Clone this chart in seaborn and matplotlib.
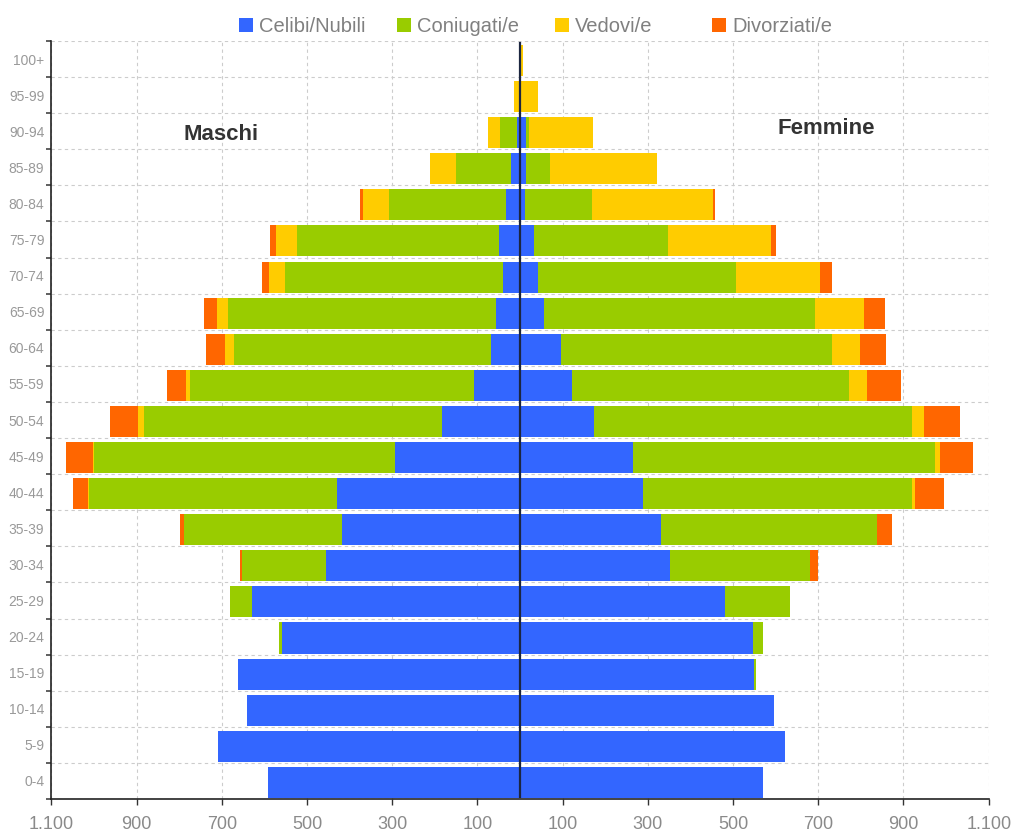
import matplotlib
matplotlib.use("Agg")
import matplotlib.pyplot as plt
from matplotlib.patches import Rectangle
from matplotlib.ticker import FixedLocator, FuncFormatter
import numpy as np
import pandas as pd
import seaborn as sns

# Age classes, oldest at the top
ages = ["100+", "95-99", "90-94", "85-89", "80-84", "75-79", "70-74", "65-69",
        "60-64", "55-59", "50-54", "45-49", "40-44", "35-39", "30-34", "25-29",
        "20-24", "15-19", "10-14", "5-9", "0-4"]

# Males by marital status
m_celibi = [0, 0, 6, 20, 34, 50, 41, 57, 67, 107, 182, 294, 430, 418, 456, 629, 559, 662, 641, 709, 592]
m_coniugati = [0, 3, 42, 131, 274, 473, 511, 628, 604, 667, 700, 705, 581, 370, 197, 52, 7, 0, 0, 0, 0]
m_vedovi = [3, 12, 28, 61, 61, 49, 37, 26, 21, 9, 14, 3, 2, 1, 0, 0, 0, 0, 0, 0, 0]
m_divorziati = [0, 0, 0, 0, 7, 14, 16, 30, 44, 45, 66, 63, 35, 9, 4, 0, 0, 0, 0, 0, 0]

# Females by marital status
f_nubili = [0, 1, 13, 15, 11, 34, 43, 57, 97, 123, 174, 266, 289, 331, 352, 481, 548, 550, 596, 622, 571]
f_coniugate = [0, 2, 9, 56, 159, 314, 464, 635, 635, 649, 745, 707, 630, 506, 328, 152, 23, 5, 0, 0, 0]
f_vedove = [8, 40, 150, 251, 283, 241, 197, 115, 66, 42, 30, 12, 9, 1, 0, 0, 0, 0, 0, 0, 0]
f_divorziate = [0, 0, 0, 0, 5, 12, 28, 49, 61, 80, 84, 77, 66, 35, 19, 0, 0, 0, 0, 0, 0]

status_labels = ["Celibi/Nubili", "Coniugati/e", "Vedovi/e", "Divorziati/e"]
status_colors = ["#3366FF", "#99CC00", "#FFCC00", "#FF6600"]

plt.rcParams["font.family"] = ["Liberation Sans", "DejaVu Sans"]

fig = plt.figure(figsize=(10.12, 8.35), dpi=100)
ax = fig.add_axes([51.3 / 1012, 36 / 835, 937.4 / 1012, 758 / 835])
ax.set_axisbelow(True)

male = np.array([m_celibi, m_coniugati, m_vedovi, m_divorziati], dtype=float)
female = np.array([f_nubili, f_coniugate, f_vedove, f_divorziate], dtype=float)
male_cum = np.cumsum(male, axis=0)
female_cum = np.cumsum(female, axis=0)

# Stacked bars: draw the outermost cumulative layer first, inner layers on top
for k in range(3, -1, -1):
    df = pd.DataFrame({
        "eta": ages * 2,
        "valore": np.concatenate([-male_cum[k], female_cum[k]]),
        "sesso": ["M"] * len(ages) + ["F"] * len(ages),
    })
    for sex in ["M", "F"]:
        sub = df[df["sesso"] == sex]
        sns.barplot(data=sub, x="valore", y="eta", order=ages, orient="h",
                    color=status_colors[k], saturation=1, width=0.86,
                    errorbar=None, linewidth=0, edgecolor="none", ax=ax)

# Bars sit slightly low within their bands
for p in ax.patches:
    p.set_y(p.get_y() + 0.04)

n = len(ages)
ax.set_xlim(-1100, 1100)
ax.set_ylim(n - 0.5, -0.5)
ax.set_xlabel("")
ax.set_ylabel("")

# Central axis between the two halves
ax.axvline(0.8, color="#1c2640", lw=1.6, ymin=0.003, ymax=0.997, zorder=5)

# x ticks: symmetric absolute values with dot as thousands separator
xt = [-1100, -900, -700, -500, -300, -100, 100, 300, 500, 700, 900, 1100]
ax.xaxis.set_major_locator(FixedLocator(xt))
ax.xaxis.set_major_formatter(FuncFormatter(lambda v, p: f"{abs(int(round(v))):,}".replace(",", ".")))
ax.tick_params(axis="x", which="major", length=4.5, width=1, color="#333333",
               labelsize=13, labelcolor="#8a8a8a", pad=8)

# y ticks: labels at band centres, small marks at band boundaries
ax.yaxis.set_minor_locator(FixedLocator(np.arange(-0.5, n, 1.0)))
ax.tick_params(axis="y", which="major", length=0, labelsize=10, labelcolor="#999999", pad=5)
ax.tick_params(axis="y", which="minor", length=3.5, width=1.2, color="#444444")

# Dashed grid
ax.grid(False)
ax.xaxis.grid(True, which="major", color="#cccccc", lw=0.8, linestyle=(0, (3, 3)))
ax.yaxis.grid(True, which="minor", color="#cccccc", lw=0.8, linestyle=(0, (3, 3)))

for s in ["top", "right"]:
    ax.spines[s].set_visible(False)
for s in ["left", "bottom"]:
    ax.spines[s].set_color("#222222")
    ax.spines[s].set_linewidth(1.2)

# Side labels
fig.text(221 / 1012, 1 - 135 / 835, "Maschi", fontsize=16, fontweight="bold",
         color="#333333", ha="center", va="center")
fig.text(826.5 / 1012, 1 - 128 / 835, "Femmine", fontsize=16, fontweight="bold",
         color="#333333", ha="center", va="center")

# Legend row across the top
sq_x = [239, 397, 555, 712]
for x0, lab, col in zip(sq_x, status_labels, status_colors):
    fig.patches.append(Rectangle((x0 / 1012, 1 - 32 / 835), 14 / 1012, 14 / 835,
                                 transform=fig.transFigure, facecolor=col,
                                 edgecolor="none"))
    fig.text((x0 + 20) / 1012, 1 - 32 / 835, lab, fontsize=14.5, color="#808080",
             ha="left", va="baseline")

fig.savefig("out.png", dpi=100)
